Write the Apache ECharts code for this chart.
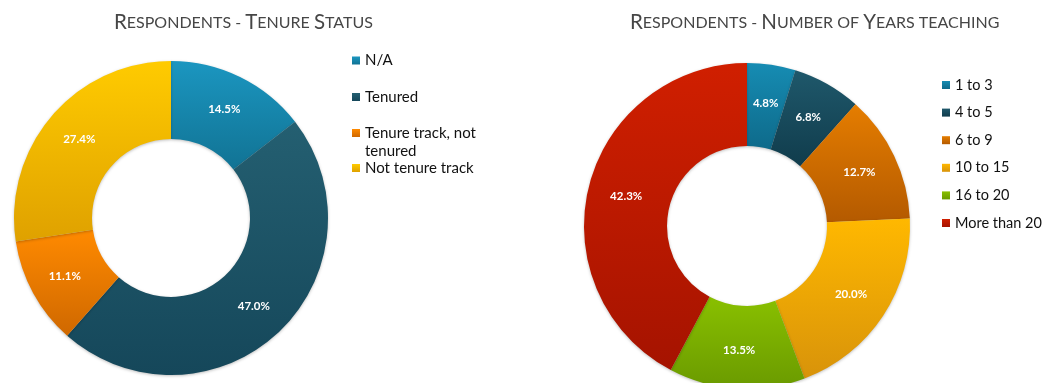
<!DOCTYPE html>
<html><head><meta charset="utf-8">
<script src="https://cdn.jsdelivr.net/npm/echarts@6/dist/echarts.min.js"></script>
<style>html,body{margin:0;padding:0;background:#fff}#c{width:1062px;height:383px}</style>
</head><body><div id="c"></div>
<script>
const tenureCategories = ['N/A', 'Tenured', 'Tenure track, not tenured', 'Not tenure track'];
const tenureValues = [14.5, 47.0, 11.1, 27.4];
const yearsCategories = ['1 to 3', '4 to 5', '6 to 9', '10 to 15', '16 to 20', 'More than 20'];
const yearsValues = [4.8, 6.8, 12.7, 20.0, 13.5, 42.3];

const tenureColors = [['#1b96c0','#117394'], ['#245f71','#15475a'], ['#ff8a00','#cf6800'], ['#ffcb00','#dfa100']];
const yearsColors = [['#168cb3','#0e6a8a'], ['#1f586b','#103c4c'], ['#e57d00','#b45a00'], ['#ffb800','#d8930a'], ['#89c000','#6a9a00'], ['#d01f00','#a51300']];

function grad(c){return {type:'linear',x:0,y:0,x2:0,y2:1,colorStops:[{offset:0,color:c[0]},{offset:1,color:c[1]}]};}
const FONT = 'Lato';
const chart = echarts.init(document.getElementById('c'));
const titleRich = {b:{fontSize:20.5,color:'#464646',fontFamily:FONT,fontWeight:'normal'}, s:{fontSize:16,color:'#464646',fontFamily:FONT,fontWeight:'normal'}};

const legendBase = {orient:'vertical', icon:'rect', itemWidth:8, itemHeight:8, padding:0, selectedMode:false,
  textStyle:{fontFamily:FONT, fontSize:15, color:'#111', lineHeight:18}};

const option = {
  animation:false,
  title:[
    {text:'{b|R}{s|ESPONDENTS - }{b|T}{s|ENURE }{b|S}{s|TATUS}', left:109, top:7, textStyle:{fontWeight:'normal', rich:titleRich}},
    {text:'{b|R}{s|ESPONDENTS - }{b|N}{s|UMBER OF }{b|Y}{s|EARS TEACHING}', left:625, top:7, textStyle:{fontWeight:'normal', rich:titleRich}}
  ],
  legend:[
    Object.assign({}, legendBase, {left:352, top:51.5, data:[tenureCategories[0]]}),
    Object.assign({}, legendBase, {left:352, top:88, data:[tenureCategories[1]]}),
    Object.assign({}, legendBase, {left:352, top:106, data:[tenureCategories[2]],
      formatter:()=>'{e| }\n{a|Tenure track, not}\n{a|tenured}',
      textStyle:Object.assign({}, legendBase.textStyle, {rich:{
        e:{fontSize:15, lineHeight:18, fontFamily:FONT},
        a:{fontSize:15, lineHeight:18, fontFamily:FONT, color:'#111'}}})}),
    Object.assign({}, legendBase, {left:352, top:159, data:[tenureCategories[3]]}),
    Object.assign({}, legendBase, {left:942, top:77, itemGap:11.6, data:yearsCategories,
      textStyle:{fontFamily:FONT, fontSize:14.5, color:'#111', lineHeight:16}})
  ],
  series:[
    {type:'pie', center:[171,218], radius:[79,157], startAngle:90, clockwise:true,
     label:{position:'inside', color:'#fff', fontFamily:FONT, fontWeight:'bold', fontSize:11.5,
       formatter:p=>p.value.toFixed(1)+'%'},
     labelLine:{show:false}, emphasis:{disabled:true},
     itemStyle:{shadowBlur:3, shadowColor:'rgba(0,0,0,0.25)', shadowOffsetY:1},
     data:tenureCategories.map((n,i)=>({name:n, value:tenureValues[i], itemStyle:{color:grad(tenureColors[i])}}))},
    {type:'pie', center:[747,226], radius:[80,163], startAngle:90, clockwise:true,
     label:{position:'inside', color:'#fff', fontFamily:FONT, fontWeight:'bold', fontSize:11.5,
       formatter:p=>p.value.toFixed(1)+'%'},
     labelLine:{show:false}, emphasis:{disabled:true},
     itemStyle:{shadowBlur:3, shadowColor:'rgba(0,0,0,0.25)', shadowOffsetY:1},
     data:yearsCategories.map((n,i)=>({name:n, value:yearsValues[i], itemStyle:{color:grad(yearsColors[i])}}))}
  ]
};
chart.setOption(option);
</script></body></html>
